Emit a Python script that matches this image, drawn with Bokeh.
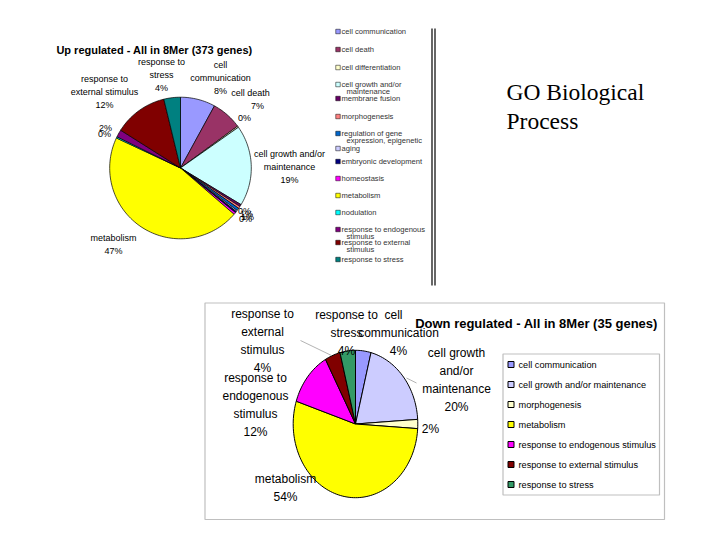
import math

from bokeh.core.properties import value
from bokeh.embed import file_html
from bokeh.models import ColumnDataSource, Range1d
from bokeh.plotting import figure
from bokeh.resources import INLINE

# Up regulated - All in 8Mer (373 genes), percent of genes per GO term
up_categories = [
    "cell communication", "cell death", "cell differentiation",
    "cell growth and/or maintenance", "membrane fusion", "morphogenesis",
    "regulation of gene expression, epigenetic", "aging",
    "embryonic development", "homeostasis", "metabolism", "nodulation",
    "response to endogenous stimulus", "response to external stimulus",
    "response to stress",
]
up_percent = [8, 7, 0.3, 18.5, 0.5, 0.5, 0.6, 0.3, 0.3, 0.5, 45.8, 0.3, 1.7, 12.3, 3.8]
up_colors = ["#9999FF", "#993366", "#FFFFCC", "#CCFFFF", "#660066", "#FF8080",
             "#0066CC", "#CCCCFF", "#000080", "#FF00FF", "#FFFF00", "#00FFFF",
             "#800080", "#800000", "#008080"]

# Down regulated - All in 8Mer (35 genes)
down_categories = [
    "cell communication", "cell growth and/or maintenance", "morphogenesis",
    "metabolism", "response to endogenous stimulus",
    "response to external stimulus", "response to stress",
]
down_percent = [4, 20, 2, 54, 12, 4, 4]
down_colors = ["#9999FF", "#CCCCFF", "#FFFFCC", "#FFFF00", "#FF00FF", "#800000", "#339966"]

# slice labels (text lines, x, first line y)
up_labels = [
    (["response to", "stress", "4%"], 161, 61),
    (["cell", "communication", "8%"], 220, 64),
    (["cell death"], 250, 92),
    (["7%"], 257, 105),
    (["0%"], 244, 117),
    (["cell growth and/or", "maintenance", "19%"], 289, 153),
    (["metabolism", "47%"], 113, 237),
    (["response to", "external stimulus", "12%"], 104, 78),
    (["2%"], 105, 127),
    (["0%"], 104, 133),
    (["0%"], 244, 210),
    (["1%"], 246, 213),
    (["1%"], 247, 216),
    (["0%"], 245, 218),
]
down_labels = [
    (["response to", "external", "stimulus", "4%"], 262, 313),
    (["response to", "endogenous", "stimulus", "12%"], 255, 377),
    (["response to", "stress", "4%"], 346, 314),
    (["cell"], 393, 314),
    (["communication", "4%"], 398, 332),
    (["cell growth", "and/or", "maintenance", "20%"], 456, 352),
    (["2%"], 430, 428),
    (["metabolism", "54%"], 285, 478),
]

up_legend_lines = [
    ["cell communication"], ["cell death"], ["cell differentiation"],
    ["cell growth and/or", "maintenance"], ["membrane fusion"], ["morphogenesis"],
    ["regulation of gene", "expression, epigenetic"], ["aging"],
    ["embryonic development"], ["homeostasis"], ["metabolism"], ["nodulation"],
    ["response to endogenous", "stimulus"], ["response to external", "stimulus"],
    ["response to stress"],
]
up_legend_y = [31, 49, 67, 84, 98, 116, 133, 148, 161, 178, 195, 212, 229, 242, 259]


def wedge_polys(cx, cy, rx, ry, values, steps=180):
    total = float(sum(values))
    xs, ys = [], []
    start = 0.0
    for v in values:
        end = start + v / total
        n = max(2, int(steps * (end - start)) + 2)
        px, py = [cx], [cy]
        for i in range(n + 1):
            a = 2 * math.pi * (start + (end - start) * i / n)
            px.append(cx + rx * math.sin(a))
            py.append(cy - ry * math.cos(a))
        xs.append(px)
        ys.append(py)
        start = end
    return xs, ys


p = figure(
    width=704, height=524,
    x_range=Range1d(0, 704), y_range=Range1d(524, 0),
    x_axis_type=None, y_axis_type=None,
    toolbar_location=None, output_backend="svg",
    min_border=0, outline_line_color=None,
)
p.grid.visible = False
p.background_fill_color = "white"

SANS = value("Liberation Sans")


def put_text(xs, ys, texts, size, align="center", color="black", style="normal", font=SANS):
    p.text(x=xs, y=ys, text=texts, text_font=font, text_font_size=size,
           text_align=align, text_baseline="middle", text_color=color,
           text_font_style=style)


def put_labels(labels, step, size):
    xs, ys, tt = [], [], []
    for lines, x, y in labels:
        for i, t in enumerate(lines):
            xs.append(x)
            ys.append(y + i * step)
            tt.append(t)
    put_text(xs, ys, tt, size)


# ---- top chart ----
put_text([154], [49], ["Up regulated - All in 8Mer (373 genes)"], "11px", style="bold")

ux, uy = wedge_polys(180, 167.5, 70.8, 70.8, up_percent)
up_src = ColumnDataSource(data=dict(xs=ux, ys=uy, color=up_colors, name=up_categories))
p.patches("xs", "ys", source=up_src, fill_color="color", line_color="black", line_width=0.7)
put_labels(up_labels, 13, "9px")

# top legend
sq_x = [337.5] * len(up_legend_y)
p.rect(x=sq_x, y=up_legend_y, width=4.5, height=4.5, fill_color=up_colors,
       line_color="black", line_width=0.5)
lx, ly, lt = [], [], []
for lines, y in zip(up_legend_lines, up_legend_y):
    for i, t in enumerate(lines):
        lx.append(341 if i == 0 else 346)
        ly.append(y + i * 7)
        lt.append(t)
put_text(lx, ly, lt, "7.6px", align="left", color="#333333")

# double vertical rule right of the top chart
p.segment(x0=[431.5, 434.5], y0=[28, 28], x1=[431.5, 434.5], y1=[285, 285],
          line_color="black", line_width=1.2)

# slide caption
put_text([506, 506], [91, 120], ["GO Biological", "Process"], "23.5px", align="left",
         font=value("Liberation Serif"))

# ---- bottom chart ----
p.quad(left=[204.5], right=[664], top=[302.5], bottom=[519], fill_color="white",
       line_color="#BFBFBF", line_width=1.2)

dx, dy = wedge_polys(355, 423.5, 62.3, 73.7, down_percent)
down_src = ColumnDataSource(data=dict(xs=dx, ys=dy, color=down_colors, name=down_categories))
p.patches("xs", "ys", source=down_src, fill_color="color", line_color="black", line_width=1)

p.segment(x0=[300, 406], y0=[340, 377.5], x1=[331, 416], y1=[355, 382.5],
          line_color="#A0A0A0", line_width=0.8)
put_labels(down_labels, 18.3, "12px")

put_text([536], [322.5], ["Down regulated - All in 8Mer (35 genes)"], "13px", style="bold")

# bottom legend
p.quad(left=[502.5], right=[659], top=[353.5], bottom=[494.5], fill_color="white",
       line_color="#BFBFBF", line_width=1.2)
leg_y = [364 + 20 * i for i in range(len(down_categories))]
p.rect(x=[510.5] * len(leg_y), y=leg_y, width=6, height=6, fill_color=down_colors,
       line_color="black", line_width=1)
put_text([518] * len(leg_y), leg_y, down_categories, "9.2px", align="left")

open("out.html", "w").write(file_html(p, INLINE))
